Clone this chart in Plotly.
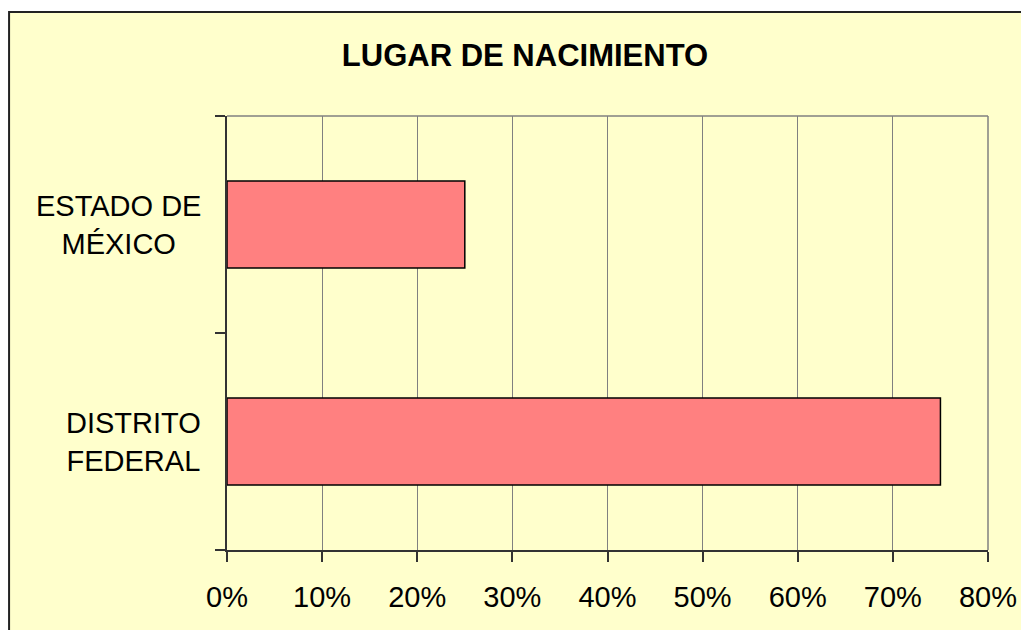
import plotly.graph_objects as go

categories = ["DISTRITO FEDERAL", "ESTADO DE MÉXICO"]
category_labels = ["DISTRITO<br>FEDERAL", "ESTADO DE<br>MÉXICO"]
values = [0.75, 0.25]
x_ticks = [0, 0.1, 0.2, 0.3, 0.4, 0.5, 0.6, 0.7, 0.8]
title_text = "LUGAR DE NACIMIENTO"

FONT = "Arial, Liberation Sans, sans-serif"
OFF = 8  # page body margin
W, H = 1029 - OFF, 630 - OFF
L, R, T, B = 227 - OFF, 39, 116 - OFF, 80
pw, ph = W - L - R, H - T - B

def px_to_paper_x(px):
    return (px - OFF - L) / pw

def px_to_paper_y(py):
    return (H - B - (py - OFF)) / ph

fig = go.Figure()
fig.add_trace(go.Bar(
    x=values, y=categories, orientation="h",
    marker=dict(color="#FF8080", line=dict(color="#000000", width=1.5)),
    width=0.4, hoverinfo="x+y",
))

annotations = []
for cat, lab in zip(categories, category_labels):
    annotations.append(dict(
        x=px_to_paper_x(203), xref="paper", y=cat, yref="y",
        text=lab, showarrow=False, xanchor="right", yanchor="middle",
        align="center", font=dict(family=FONT, size=29, color="#000000"),
    ))

shapes = [
    dict(type="rect", xref="paper", yref="paper",
         x0=px_to_paper_x(8.5), x1=px_to_paper_x(1045),
         y0=px_to_paper_y(645), y1=px_to_paper_y(12),
         fillcolor="#FFFFCC", line=dict(color="#222222", width=2), layer="below"),
    dict(type="line", xref="paper", yref="paper", x0=0, x1=1, y0=1, y1=1,
         line=dict(color="#808080", width=1.5)),
    dict(type="line", xref="paper", yref="paper", x0=1, x1=1, y0=0, y1=1,
         line=dict(color="#808080", width=1.5)),
]

fig.update_layout(
    width=W, height=H,
    margin=dict(l=L, r=R, t=T, b=B, pad=0),
    paper_bgcolor="#FFFFFF", plot_bgcolor="#FFFFFF",
    showlegend=False,
    title=dict(text="<b>" + title_text + "</b>", x=(525 - OFF) / W, xref="container", xanchor="center",
               y=1 - (55 - OFF) / H, yref="container", yanchor="middle",
               font=dict(family=FONT, size=31, color="#000000")),
    xaxis=dict(range=[0, 0.8], tickvals=x_ticks, tickformat=".0%",
               showgrid=True, gridcolor="#808080", gridwidth=1, zeroline=False,
               ticks="outside", ticklen=10, tickcolor="#333333", tickwidth=1.5,
               showline=True, linecolor="#333333", linewidth=2,
               ticklabelstandoff=10,
               tickfont=dict(family=FONT, size=29, color="#000000")),
    yaxis=dict(categoryorder="array", categoryarray=categories,
               showticklabels=False, tickson="boundaries",
               ticks="outside", ticklen=10, tickcolor="#333333", tickwidth=1.5,
               showline=True, linecolor="#333333", linewidth=2,
               showgrid=False, zeroline=False),
    annotations=annotations,
    shapes=shapes,
    bargap=0.6,
)

fig.write_html("out.html")
